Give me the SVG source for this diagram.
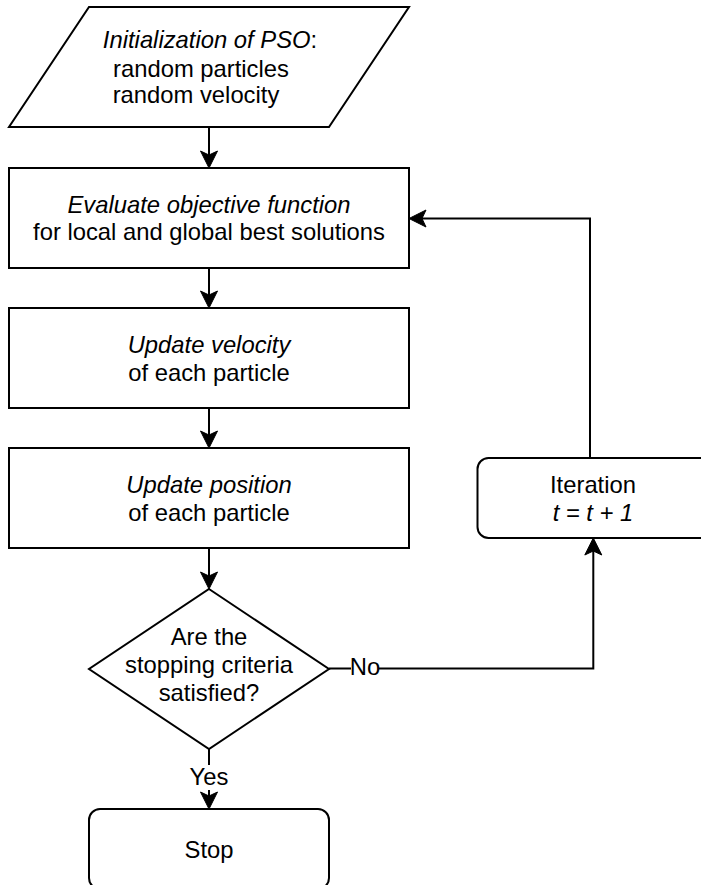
<svg xmlns="http://www.w3.org/2000/svg" width="701" height="885" viewBox="0 0 701 885">
<style>
.shape{fill:#fff;stroke:#000;stroke-width:2}
.edge{fill:none;stroke:#000;stroke-width:2}
text{font-family:"Liberation Sans",Arial,Helvetica,sans-serif;font-size:23.8px;fill:#000;text-anchor:middle}
.it{font-style:italic}
.lbl{fill:#fff;stroke:none}
</style>
<defs>
<marker id="arr" markerUnits="userSpaceOnUse" viewBox="-18 -10 20 20" markerWidth="20" markerHeight="20" refX="-12" refY="0" orient="auto">
<path d="M0,0 L-17,-8.5 L-13,0 L-17,8.5 Z" fill="#000" stroke="#000" stroke-width="1" stroke-linejoin="miter"/>
</marker>
</defs>
<rect x="0" y="0" width="701" height="885" fill="#fff"/>
<g id="connectors">
<path class="edge" d="M209,127 L209,156" marker-end="url(#arr)"/>
<path class="edge" d="M209,268 L209,296" marker-end="url(#arr)"/>
<path class="edge" d="M209,408 L209,436" marker-end="url(#arr)"/>
<path class="edge" d="M209,548 L209,577" marker-end="url(#arr)"/>
<path class="edge" d="M209,749 L209,797" marker-end="url(#arr)"/>
<path class="edge" d="M329,668.5 L593.3,668.5 L593.3,550" marker-end="url(#arr)"/>
<path class="edge" d="M590,458 L590,218.5 L421,218.5" marker-end="url(#arr)"/>
<g id="label-yes">
<rect class="lbl" x="191" y="765" width="36" height="25"/>
<text x="209" y="785">Yes</text>
</g>
<g id="label-no">
<rect class="lbl" x="351" y="656" width="28" height="24"/>
<text x="365" y="675">No</text>
</g>
</g>
<g id="init">
<polygon class="shape" points="89,7 409,7 329,127 9,127"/>
<text x="210" y="48.3"><tspan class="it">Initialization of PSO</tspan>:</text>
<text x="201" y="76.7">random particles</text>
<text x="196" y="103.3">random velocity</text>
</g>
<g id="evaluate">
<rect class="shape" x="9" y="168" width="400" height="100"/>
<text x="209" y="212.7" class="it">Evaluate objective function</text>
<text x="209" y="240">for local and global best solutions</text>
</g>
<g id="velocity">
<rect class="shape" x="9" y="308" width="400" height="100"/>
<text x="209" y="353.3" class="it">Update velocity</text>
<text x="209" y="381">of each particle</text>
</g>
<g id="position">
<rect class="shape" x="9" y="448" width="400" height="100"/>
<text x="209" y="493.3" class="it">Update position</text>
<text x="209" y="521">of each particle</text>
</g>
<g id="decision">
<polygon class="shape" points="209,589 329,669 209,749 89,669"/>
<text x="209" y="645">Are the</text>
<text x="209" y="673.3">stopping criteria</text>
<text x="209" y="700.7">satisfied?</text>
</g>
<g id="iteration">
<rect class="shape" x="477.5" y="458" width="236" height="80" rx="11" ry="11"/>
<text x="593" y="493.3">Iteration</text>
<text x="593" y="520.7" class="it">t = t + 1</text>
</g>
<g id="stop">
<rect class="shape" x="89" y="809" width="240" height="80" rx="11" ry="11"/>
<text x="209" y="858.3">Stop</text>
</g>
</svg>
